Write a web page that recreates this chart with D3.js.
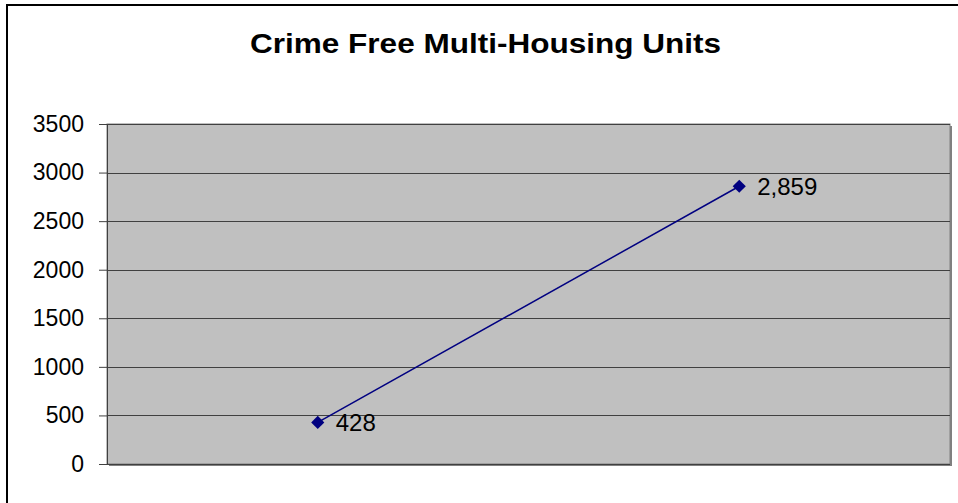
<!DOCTYPE html>
<html>
<head>
<meta charset="utf-8">
<script src="https://cdn.jsdelivr.net/npm/d3@7"></script>
<style>
  body { margin: 0; background: #fff; }
  svg { display: block; font-family: Arial, "Liberation Sans", sans-serif; }
</style>
</head>
<body>
<div id="chart"></div>
<script>
const categories = ['A', 'B'];
const units = [428, 2859];
const yTicks = [0, 500, 1000, 1500, 2000, 2500, 3000, 3500];

const width = 958;
const height = 503;
const margin = { top: 124, right: 8, bottom: 39, left: 107 };
const plotW = width - margin.left - margin.right;
const plotH = height - margin.top - margin.bottom;

const svg = d3.select('#chart')
    .append('svg')
    .attr('width', width)
    .attr('height', height);

// outer chart border (runs off the right/bottom edge)
svg.append('rect')
    .attr('x', 7)
    .attr('y', 5)
    .attr('width', width + 10)
    .attr('height', height + 10)
    .attr('fill', 'none')
    .attr('stroke', '#000')
    .attr('stroke-width', 2);

svg.append('text')
    .attr('x', 250)
    .attr('y', 53)
    .attr('font-size', 28)
    .attr('font-weight', 'bold')
    .attr('textLength', 471)
    .attr('lengthAdjust', 'spacingAndGlyphs')
    .text('Crime Free Multi-Housing Units');

const x = d3.scaleBand()
    .domain(categories)
    .range([0, plotW]);

const y = d3.scaleLinear()
    .domain([0, 3500])
    .range([plotH, 0]);

const g = svg.append('g')
    .attr('transform', `translate(${margin.left},${margin.top})`);

// shadow
g.append('rect')
    .attr('x', 2)
    .attr('y', 2)
    .attr('width', plotW)
    .attr('height', plotH)
    .attr('fill', '#808080');

g.append('rect')
    .attr('width', plotW)
    .attr('height', plotH)
    .attr('fill', '#c0c0c0')
    .attr('stroke', '#808080')
    .attr('stroke-width', 1);

// gridlines
g.selectAll('.grid')
    .data(yTicks)
    .enter().append('line')
    .attr('class', 'grid')
    .attr('x1', 0)
    .attr('x2', plotW)
    .attr('y1', d => Math.round(y(d)) + 0.5)
    .attr('y2', d => Math.round(y(d)) + 0.5)
    .attr('stroke', '#404040');

// y axis
const yAxis = g.append('g')
    .call(d3.axisLeft(y).tickValues(yTicks).tickSize(8).tickPadding(15).tickFormat(d3.format('d')));
yAxis.select('.domain').attr('stroke', '#404040');
yAxis.selectAll('.tick line').attr('stroke', '#404040');
yAxis.selectAll('.tick text')
    .attr('font-size', 23)
    .attr('font-family', 'Arial, "Liberation Sans", sans-serif')
    .attr('fill', '#000');

const pts = categories.map((c, i) => ({ c, v: units[i] }));
const cx = d => x(d.c) + x.bandwidth() / 2;

g.append('path')
    .datum(pts)
    .attr('fill', 'none')
    .attr('stroke', '#000080')
    .attr('stroke-width', 1.5)
    .attr('d', d3.line().x(cx).y(d => y(d.v)));

g.selectAll('.marker')
    .data(pts)
    .enter().append('path')
    .attr('class', 'marker')
    .attr('transform', d => `translate(${cx(d)},${y(d.v)})`)
    .attr('d', d3.symbol().type(d3.symbolDiamond2).size(110))
    .attr('fill', '#000080');

g.selectAll('.label')
    .data(pts)
    .enter().append('text')
    .attr('class', 'label')
    .attr('x', d => cx(d) + 18)
    .attr('y', d => y(d.v))
    .attr('dy', '0.35em')
    .attr('font-size', 24)
    .text(d => d3.format(',')(d.v));
</script>
</body>
</html>
